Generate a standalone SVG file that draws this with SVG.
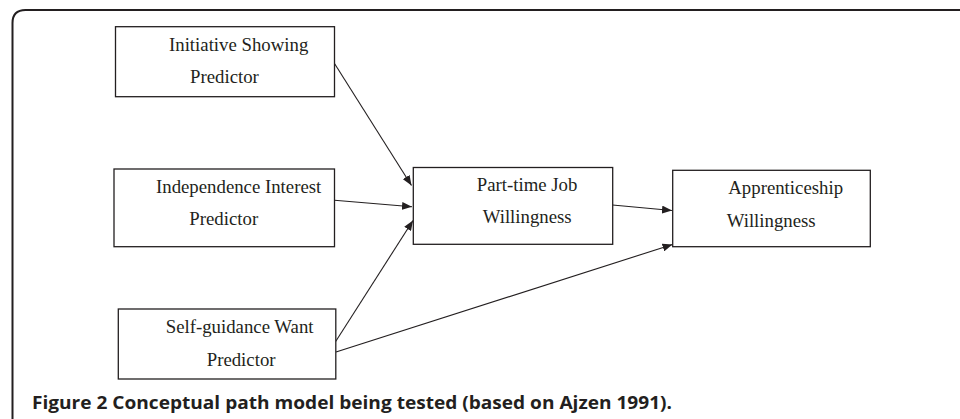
<svg xmlns="http://www.w3.org/2000/svg" width="960" height="419" viewBox="0 0 960 419">
<style>
.box{fill:#fff;stroke:#231f20;stroke-width:1.3}
.lbl{font-family:"Liberation Serif","Times New Roman",serif;font-size:18.8px;fill:#231f20}
.edge{stroke:#231f20;stroke-width:1.1;fill:none;marker-end:url(#ah)}
.cap{font-family:"Open Sans","Liberation Sans",sans-serif;font-weight:700;font-size:17.5px;fill:#231f20}
</style>
<defs>
<marker id="ah" markerUnits="userSpaceOnUse" markerWidth="11" markerHeight="8" refX="10" refY="4" orient="auto">
<path d="M0,0 L10,4 L0,8 z" fill="#231f20"/>
</marker>
</defs>
<rect width="960" height="419" fill="#fff"/>
<path d="M12.5,419 V23 Q12.5,10 25.5,10 H960" fill="none" stroke="#231f20" stroke-width="2"/>
<g id="connectors">
<line class="edge" x1="334.5" y1="63.5" x2="411.5" y2="185.5"/>
<line class="edge" x1="334.5" y1="200.3" x2="412" y2="206.8"/>
<line class="edge" x1="335.5" y1="341.7" x2="413" y2="220.5"/>
<line class="edge" x1="612.5" y1="205" x2="672" y2="210.5"/>
<line class="edge" x1="336" y1="352" x2="672.5" y2="244.5"/>
</g>
<g id="n1">
<rect class="box" x="115.5" y="26.7" width="219" height="70"/>
<text class="lbl" x="169" y="50.7">Initiative Showing</text>
<text class="lbl" x="190" y="82.7">Predictor</text>
</g>
<g id="n2">
<rect class="box" x="114" y="169" width="220.5" height="77.7"/>
<text class="lbl" x="156" y="193.3">Independence Interest</text>
<text class="lbl" x="189.3" y="225">Predictor</text>
</g>
<g id="n3">
<rect class="box" x="118.3" y="309" width="217.5" height="70"/>
<text class="lbl" x="165.7" y="333.3">Self-guidance Want</text>
<text class="lbl" x="206.7" y="365.7">Predictor</text>
</g>
<g id="n4">
<rect class="box" x="413.3" y="167.5" width="199.4" height="76.8"/>
<text class="lbl" x="476.7" y="190.7">Part-time Job</text>
<text class="lbl" x="482.7" y="223.3">Willingness</text>
</g>
<g id="n5">
<rect class="box" x="672.7" y="170.3" width="197.6" height="76.4"/>
<text class="lbl" x="728.3" y="194">Apprenticeship</text>
<text class="lbl" x="726.7" y="226.7">Willingness</text>
</g>
<text class="cap" x="32" y="409.3" textLength="640" lengthAdjust="spacingAndGlyphs">Figure 2 Conceptual path model being tested (based on Ajzen 1991).</text>
</svg>
